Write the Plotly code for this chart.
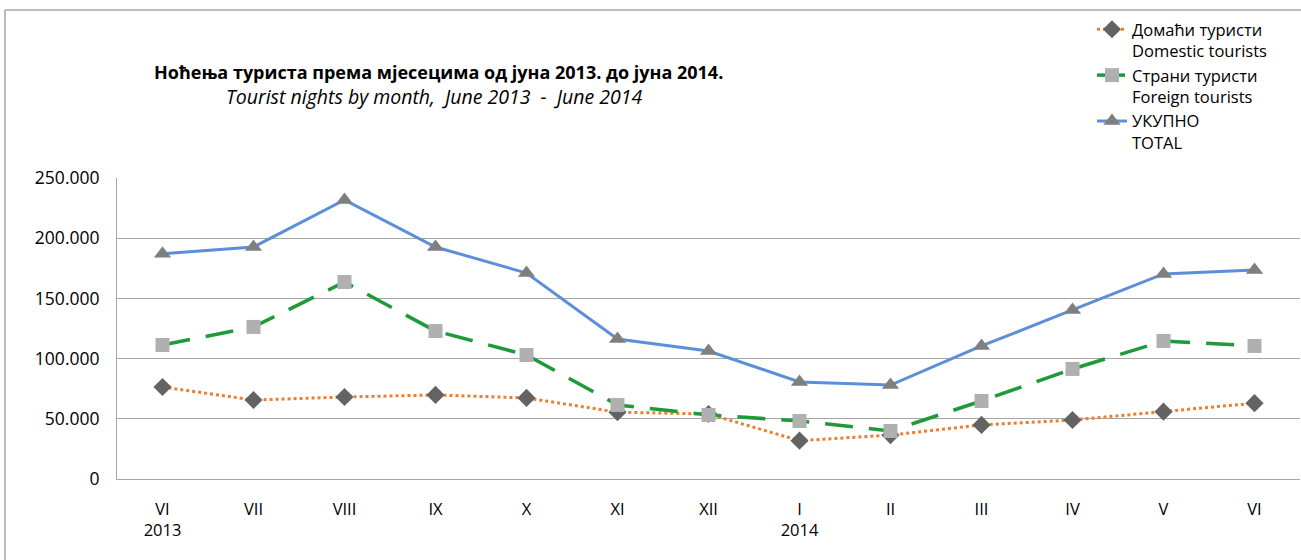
import plotly.graph_objects as go

months = ["VI<br>2013", "VII", "VIII", "IX", "X", "XI", "XII", "I<br>2014", "II", "III", "IV", "V", "VI"]
domestic = [76400, 65600, 68100, 69800, 67300, 55500, 54000, 31800, 36500, 44900, 49000, 55900, 63000]
foreign = [111300, 126300, 163600, 122900, 103000, 61500, 53200, 48200, 39900, 64800, 91400, 114600, 110500]
total = [187000, 192700, 231700, 192700, 171100, 116300, 106300, 80600, 78000, 110500, 140400, 170300, 173600]
y_ticks = [0, 50000, 100000, 150000, 200000, 250000]

x = list(range(len(months)))
FONT = "Open Sans"

fig = go.Figure()
fig.add_trace(go.Scatter(
    x=x, y=domestic, mode="lines+markers",
    name="Домаћи туристи<br>Domestic tourists",
    line=dict(color="#ED7D31", width=3, dash="dot"),
    marker=dict(symbol="diamond", size=14, color="#636363"),
))
fig.add_trace(go.Scatter(
    x=x, y=foreign, mode="lines+markers",
    name="Страни туристи<br>Foreign tourists",
    line=dict(color="#1E9A38", width=3.5, dash="28px,16px"),
    marker=dict(symbol="square", size=14, color="#B0B0B0"),
))
fig.add_trace(go.Scatter(
    x=x, y=total, mode="lines+markers",
    name="УКУПНО<br>TOTAL",
    line=dict(color="#5B8FD9", width=3),
    marker=dict(symbol="triangle-up", size=15, color="#7F7F7F"),
))

W, H = 1301, 560
L, R, T, B = 117, 1, 178, 81
pw = W - L - R
ph = H - T - B

def px_x(p):
    return (p - L) / pw

def px_y(p):
    return (H - B - p) / ph

fig.update_layout(
    width=W, height=H,
    margin=dict(l=L, r=R, t=T, b=B, pad=0),
    paper_bgcolor="white", plot_bgcolor="white",
    separators=",.",
    font=dict(family=FONT, size=17, color="#000000"),
    showlegend=True,
    legend=dict(
        x=px_x(1092), y=px_y(12), xanchor="left", yanchor="top",
        font=dict(family=FONT, size=16.5, color="#000000"),
        valign="top", tracegroupgap=0, itemwidth=30,
        bgcolor="rgba(0,0,0,0)",
    ),
    xaxis=dict(
        range=[-0.5, 12.5], tickmode="array", tickvals=x, ticktext=months,
        showgrid=False, zeroline=False, showline=True, linecolor="#A6A6A6", linewidth=1,
        ticks="", ticklabelstandoff=15, tickfont=dict(family=FONT, size=16.5),
    ),
    yaxis=dict(
        range=[0, 250000], tickmode="array", tickvals=y_ticks,
        tickformat=",d",
        showgrid=True, gridcolor="#A6A6A6", gridwidth=1,
        zeroline=False, showline=True, linecolor="#A6A6A6", linewidth=1,
        ticks="", ticklabelstandoff=13, tickfont=dict(family=FONT, size=17.5),
    ),
    annotations=[
        dict(text="<b>Ноћења туриста према мјесецима од јуна 2013. до јуна 2014.</b>",
             x=px_x(438), y=px_y(72), xref="paper", yref="paper",
             xanchor="center", yanchor="middle", showarrow=False,
             font=dict(family=FONT, size=18, color="#000000")),
        dict(text="<i>Tourist nights by month,  June 2013  -  June 2014</i>",
             x=px_x(434), y=px_y(97), xref="paper", yref="paper",
             xanchor="center", yanchor="middle", showarrow=False,
             font=dict(family=FONT, size=19.5, color="#000000")),
    ],
    shapes=[
        dict(type="line", xref="paper", yref="paper",
             x0=px_x(5), x1=px_x(1301), y0=px_y(10), y1=px_y(10),
             line=dict(color="#A6A6A6", width=1.5)),
        dict(type="line", xref="paper", yref="paper",
             x0=px_x(5), x1=px_x(5), y0=px_y(10), y1=px_y(560),
             line=dict(color="#A6A6A6", width=1.5)),
    ],
)

fig.write_html("out.html",
               config={"displayModeBar": False},
               post_script="document.body.style.margin='0';document.body.style.padding='0';document.body.style.overflow='hidden';")
